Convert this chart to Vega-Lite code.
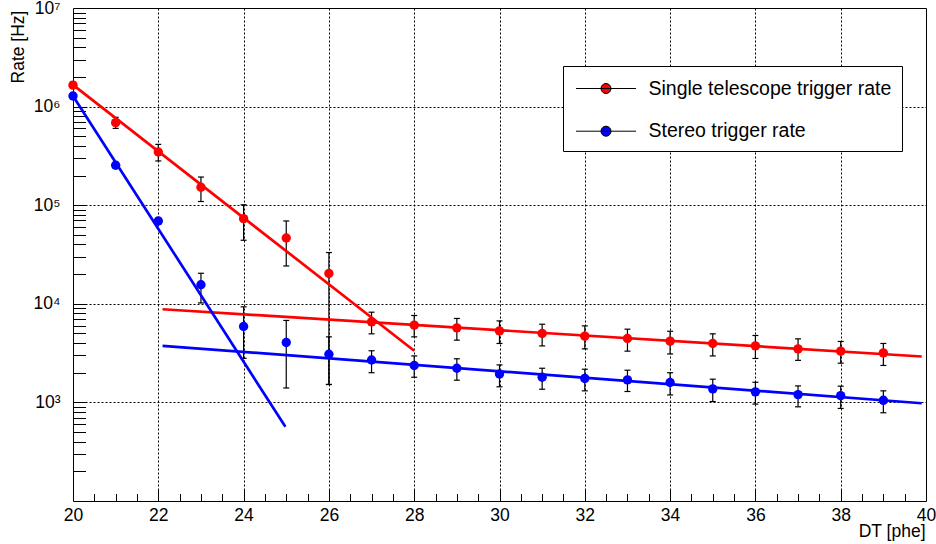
{
  "$schema": "https://vega.github.io/schema/vega-lite/v6.json",
  "width": 853,
  "height": 493,
  "autosize": "none",
  "padding": {"left": 73, "top": 8, "right": 10, "bottom": 43},
  "background": "white",
  "config": {
    "view": {"stroke": "black", "strokeWidth": 1},
    "axis": {
      "domain": false,
      "labelFont": "Liberation Sans",
      "titleFont": "Liberation Sans",
      "labelColor": "black",
      "titleColor": "black",
      "tickColor": "black",
      "tickWidth": 1,
      "gridColor": "black",
      "gridDash": [2, 2],
      "gridOpacity": 1,
      "gridWidth": 1,
      "labelFlush": false,
      "labelOverlap": false,
      "titleFontWeight": "normal"
    },
    "legend": {
      "orient": "none", "legendX": 490, "legendY": 58, "title": null,
      "symbolType": "M-2.5,0H2.5M-0.4167,0A0.4167,0.4167,0,1,1,0.4167,0A0.4167,0.4167,0,1,1,-0.4167,0Z",
      "symbolSize": 576, "symbolStrokeColor": "black", "symbolStrokeWidth": 1, "symbolOpacity": 1,
      "symbolOffset": 20.5, "labelOffset": 30, "labelFont": "Liberation Sans", "labelFontSize": 19.5, "labelColor": "black", "labelLimit": 400,
      "padding": 10, "rowPadding": 20.7, "strokeColor": "black", "fillColor": "white", "cornerRadius": 0
    }
  },
  "datasets": {
    "meas": [
      {"series": "Single telescope trigger rate", "dt": 20, "rate": 1650000, "lo": 1540000, "hi": 1770000},
      {"series": "Single telescope trigger rate", "dt": 21, "rate": 687000, "lo": 601000, "hi": 778000},
      {"series": "Single telescope trigger rate", "dt": 22, "rate": 346000, "lo": 281000, "hi": 414000},
      {"series": "Single telescope trigger rate", "dt": 23, "rate": 152000, "lo": 109000, "hi": 193000},
      {"series": "Single telescope trigger rate", "dt": 24, "rate": 73000, "lo": 44100, "hi": 101000},
      {"series": "Single telescope trigger rate", "dt": 25, "rate": 46500, "lo": 24200, "hi": 69200},
      {"series": "Single telescope trigger rate", "dt": 26, "rate": 20300, "lo": 1520, "hi": 33100},
      {"series": "Single telescope trigger rate", "dt": 27, "rate": 6560, "lo": 4960, "hi": 8220},
      {"series": "Single telescope trigger rate", "dt": 28, "rate": 6070, "lo": 4620, "hi": 7610},
      {"series": "Single telescope trigger rate", "dt": 29, "rate": 5700, "lo": 4280, "hi": 7100},
      {"series": "Single telescope trigger rate", "dt": 30, "rate": 5310, "lo": 3960, "hi": 6710},
      {"series": "Single telescope trigger rate", "dt": 31, "rate": 5000, "lo": 3740, "hi": 6210},
      {"series": "Single telescope trigger rate", "dt": 32, "rate": 4700, "lo": 3490, "hi": 5970},
      {"series": "Single telescope trigger rate", "dt": 33, "rate": 4450, "lo": 3310, "hi": 5530},
      {"series": "Single telescope trigger rate", "dt": 34, "rate": 4180, "lo": 3100, "hi": 5270},
      {"series": "Single telescope trigger rate", "dt": 35, "rate": 3960, "lo": 2960, "hi": 4960},
      {"series": "Single telescope trigger rate", "dt": 36, "rate": 3740, "lo": 2790, "hi": 4770},
      {"series": "Single telescope trigger rate", "dt": 37, "rate": 3490, "lo": 2670, "hi": 4410},
      {"series": "Single telescope trigger rate", "dt": 38, "rate": 3310, "lo": 2500, "hi": 4150},
      {"series": "Single telescope trigger rate", "dt": 39, "rate": 3180, "lo": 2370, "hi": 3960},
      {"series": "Stereo trigger rate", "dt": 20, "rate": 1280000, "lo": 1190000, "hi": 1370000},
      {"series": "Stereo trigger rate", "dt": 21, "rate": 254000, "lo": 237000, "hi": 272000},
      {"series": "Stereo trigger rate", "dt": 22, "rate": 69200, "lo": 64500, "hi": 74200},
      {"series": "Stereo trigger rate", "dt": 23, "rate": 15600, "lo": 10200, "hi": 20400},
      {"series": "Stereo trigger rate", "dt": 24, "rate": 5890, "lo": 2800, "hi": 9310},
      {"series": "Stereo trigger rate", "dt": 25, "rate": 4050, "lo": 1400, "hi": 6780},
      {"series": "Stereo trigger rate", "dt": 26, "rate": 3080, "lo": 1520, "hi": 4620},
      {"series": "Stereo trigger rate", "dt": 27, "rate": 2690, "lo": 2000, "hi": 3340},
      {"series": "Stereo trigger rate", "dt": 28, "rate": 2370, "lo": 1800, "hi": 2960},
      {"series": "Stereo trigger rate", "dt": 29, "rate": 2220, "lo": 1680, "hi": 2770},
      {"series": "Stereo trigger rate", "dt": 30, "rate": 1940, "lo": 1440, "hi": 2400},
      {"series": "Stereo trigger rate", "dt": 31, "rate": 1800, "lo": 1360, "hi": 2220},
      {"series": "Stereo trigger rate", "dt": 32, "rate": 1750, "lo": 1310, "hi": 2170},
      {"series": "Stereo trigger rate", "dt": 33, "rate": 1690, "lo": 1290, "hi": 2120},
      {"series": "Stereo trigger rate", "dt": 34, "rate": 1590, "lo": 1190, "hi": 2000},
      {"series": "Stereo trigger rate", "dt": 35, "rate": 1370, "lo": 1020, "hi": 1720},
      {"series": "Stereo trigger rate", "dt": 36, "rate": 1280, "lo": 961, "hi": 1600},
      {"series": "Stereo trigger rate", "dt": 37, "rate": 1200, "lo": 902, "hi": 1470},
      {"series": "Stereo trigger rate", "dt": 38, "rate": 1170, "lo": 869, "hi": 1460},
      {"series": "Stereo trigger rate", "dt": 39, "rate": 1050, "lo": 785, "hi": 1310}
    ],
    "fits": [
      {"series": "Single telescope trigger rate", "fit": "steep", "dt": 20, "rate": 1660000},
      {"series": "Single telescope trigger rate", "fit": "steep", "dt": 28, "rate": 3340},
      {"series": "Single telescope trigger rate", "fit": "flat", "dt": 22.1, "rate": 8810},
      {"series": "Single telescope trigger rate", "fit": "flat", "dt": 39.9, "rate": 2920},
      {"series": "Stereo trigger rate", "fit": "steep", "dt": 20, "rate": 1280000},
      {"series": "Stereo trigger rate", "fit": "steep", "dt": 24.98, "rate": 566},
      {"series": "Stereo trigger rate", "fit": "flat", "dt": 22.1, "rate": 3750},
      {"series": "Stereo trigger rate", "fit": "flat", "dt": 39.9, "rate": 980}
    ]
  },
  "resolve": {"axis": {"x": "independent", "y": "independent"}},
  "layer": [
    {
      "data": {"name": "meas"},
      "mark": {"type": "rule", "color": "black", "strokeWidth": 1.2, "opacity": 1},
      "encoding": {
        "x": {"field": "dt", "type": "quantitative", "scale": {"domain": [20, 40], "nice": false, "zero": false},
          "axis": {"orient": "bottom", "values": [20, 22, 24, 26, 28, 30, 32, 34, 36, 38, 40], "ticks": false, "tickSize": 0, "labelPadding": 5, "labelFontSize": 17.5, "grid": false,
            "title": "DT [phe]", "titleFontSize": 17.5, "titleAnchor": "end", "titleAlign": "right", "titleBaseline": "alphabetic", "titleX": 852, "titleY": 35}},
        "y": {"field": "lo", "type": "quantitative", "scale": {"type": "log", "domain": [100, 10000000], "nice": false},
          "axis": {"orient": "left", "values": [1000, 10000, 100000, 1000000, 10000000], "ticks": false, "tickSize": 0, "labelPadding": 13, "labelFontSize": 17.5, "labelAlign": "right", "labelBaseline": "middle",
            "labelExpr": "datum.value >= 9000000 ? '10⁷' : datum.value >= 900000 ? '10⁶' : datum.value >= 90000 ? '10⁵' : datum.value >= 9000 ? '10⁴' : '10³'",
            "grid": false, "title": "Rate [Hz]", "titleFontSize": 17.5, "titleAngle": -90, "titleAlign": "right", "titleBaseline": "middle", "titleX": -55, "titleY": 2}},
        "y2": {"field": "hi"}
      }
    },
    {
      "data": {"name": "meas"},
      "mark": {"type": "tick", "orient": "horizontal", "color": "black", "size": 6, "thickness": 1.2, "opacity": 1},
      "encoding": {
        "x": {"field": "dt", "type": "quantitative", "scale": {"domain": [20, 40], "nice": false, "zero": false},
          "axis": {"orient": "bottom", "values": [20.5, 21, 21.5, 22.5, 23, 23.5, 24.5, 25, 25.5, 26.5, 27, 27.5, 28.5, 29, 29.5, 30.5, 31, 31.5, 32.5, 33, 33.5, 34.5, 35, 35.5, 36.5, 37, 37.5, 38.5, 39, 39.5], "tickSize": -7.5, "labels": false, "grid": false, "title": null}},
        "y": {"field": "hi", "type": "quantitative", "scale": {"type": "log", "domain": [100, 10000000], "nice": false},
          "axis": {"orient": "left", "values": [200, 300, 400, 500, 600, 700, 800, 900, 1000, 2000, 3000, 4000, 5000, 6000, 7000, 8000, 9000, 10000, 20000, 30000, 40000, 50000, 60000, 70000, 80000, 90000, 100000, 200000, 300000, 400000, 500000, 600000, 700000, 800000, 900000, 1000000, 2000000, 3000000, 4000000, 5000000, 6000000, 7000000, 8000000, 9000000], "tickSize": -12.5, "labels": false, "grid": false, "title": null}}
      }
    },
    {
      "data": {"name": "meas"},
      "mark": {"type": "tick", "orient": "horizontal", "color": "black", "size": 6, "thickness": 1.2, "opacity": 1},
      "encoding": {
        "x": {"field": "dt", "type": "quantitative", "scale": {"domain": [20, 40], "nice": false, "zero": false},
          "axis": {"orient": "bottom", "values": [22, 24, 26, 28, 30, 32, 34, 36, 38], "tickSize": -12.5, "labels": false, "grid": true, "title": null}},
        "y": {"field": "lo", "type": "quantitative", "scale": {"type": "log", "domain": [100, 10000000], "nice": false},
          "axis": {"orient": "left", "values": [1000, 10000, 100000, 1000000], "ticks": false, "labels": false, "grid": true, "title": null}}
      }
    },
    {
      "data": {"name": "fits"},
      "mark": {"type": "line", "strokeWidth": 2.7, "opacity": 1},
      "encoding": {
        "x": {"field": "dt", "type": "quantitative", "scale": {"domain": [20, 40], "nice": false, "zero": false}, "axis": null},
        "y": {"field": "rate", "type": "quantitative", "scale": {"type": "log", "domain": [100, 10000000], "nice": false}, "axis": null},
        "stroke": {"field": "series", "type": "nominal", "scale": {"domain": ["Stereo trigger rate", "Single telescope trigger rate"], "range": ["#0000ff", "#ff0000"]}, "legend": null},
        "detail": {"field": "fit", "type": "nominal"}
      }
    },
    {
      "data": {"name": "meas"},
      "mark": {"type": "point", "shape": "circle", "filled": true, "size": 88, "opacity": 1},
      "encoding": {
        "x": {"field": "dt", "type": "quantitative", "scale": {"domain": [20, 40], "nice": false, "zero": false}, "axis": null},
        "y": {"field": "rate", "type": "quantitative", "scale": {"type": "log", "domain": [100, 10000000], "nice": false}, "axis": null},
        "color": {"field": "series", "type": "nominal", "scale": {"domain": ["Single telescope trigger rate", "Stereo trigger rate"], "range": ["#ff0000", "#0000ff"]},
          "legend": {"labelExpr": "datum.label + ' '", "encode": {"symbols": {"update": {"stroke": {"value": "black"}, "strokeWidth": {"value": 1}}}}}}
      }
    }
  ]
}
